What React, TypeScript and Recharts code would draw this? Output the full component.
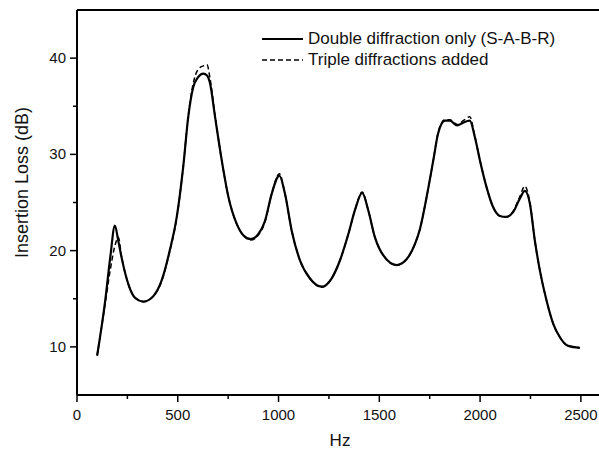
// App.tsx
import { LineChart, Line, XAxis, YAxis, ReferenceLine, Legend } from 'recharts';

const freqs = [
  100, 140, 165, 188, 205, 221, 255, 288, 330, 380, 420, 460, 495, 527, 552, 577, 600, 627, 645, 660,
  685, 718, 751, 792, 825, 862, 899, 933, 966, 1004, 1032, 1065, 1106, 1156, 1214, 1263, 1305, 1346,
  1379, 1415, 1445, 1478, 1520, 1586, 1635, 1677, 1701, 1735, 1768, 1792, 1826, 1850, 1887, 1916, 1949,
  1974, 1999, 2032, 2065, 2098, 2128, 2164, 2197, 2222, 2247, 2272, 2297, 2330, 2363, 2396, 2437, 2495
];

const doubleOnly = [
  9.1, 14.8, 19.3, 22.6, 21.0, 19.3, 16.5, 15.1, 14.7, 15.3, 16.9, 20.0, 23.5, 28.7, 33.9, 37.0, 38.0, 38.4, 38.2, 37.4,
  33.9, 29.4, 25.6, 22.8, 21.6, 21.2, 21.7, 23.1, 25.9, 27.8, 25.9, 22.1, 19.0, 17.1, 16.25, 17.1, 19.0, 21.7,
  24.2, 26.0, 24.2, 21.4, 19.5, 18.5, 19.1, 20.7, 22.2, 25.6, 29.4, 32.2, 33.5, 33.5, 33.0, 33.3, 33.5,
  31.8, 29.4, 26.6, 24.5, 23.6, 23.5, 24.0, 25.4, 26.2, 24.9, 21.0, 17.9, 14.8, 12.4, 11.0, 10.1, 9.9
];

const tripleAdded = [
  9.1, 14.5, 18.0, 20.5, 21.4, 19.4, 16.5, 15.1, 14.7, 15.3, 16.8, 19.9, 23.4, 28.7, 34.0, 37.4, 38.8, 39.2, 39.3, 37.9,
  34.0, 29.4, 25.6, 22.8, 21.6, 21.1, 21.6, 23.0, 25.9, 28.0, 25.9, 22.1, 19.0, 17.1, 16.2, 17.1, 19.0, 21.7,
  24.2, 26.1, 24.2, 21.4, 19.5, 18.5, 19.1, 20.7, 22.2, 25.6, 29.4, 32.3, 33.6, 33.6, 33.1, 33.5, 33.9,
  31.9, 29.4, 26.6, 24.5, 23.6, 23.5, 24.1, 25.6, 26.7, 25.0, 21.0, 17.9, 14.8, 12.4, 11.0, 10.1, 9.9
];

const xTicks = [0, 250, 500, 750, 1000, 1250, 1500, 1750, 2000, 2250, 2500];
const yTicks = [5, 10, 15, 20, 25, 30, 35, 40];

const seriesNames = ['Double diffraction only (S-A-B-R)', 'Triple diffractions added'];

const data = freqs.map((f, i) => ({ hz: f, dbl: doubleOnly[i], tri: tripleAdded[i] }));

const FONT = '"Liberation Sans", Arial, sans-serif';

const AXIS_X = 77;
const AXIS_Y = 395;

const YTick = (props: any) => {
  const { y, payload } = props;
  const v = payload.value;
  if (v === 5) return null;
  const major = v % 10 === 0;
  return (
    <g>
      <line x1={AXIS_X - (major ? 7 : 4)} x2={AXIS_X} y1={y} y2={y} stroke="#000" strokeWidth={1.5} />
      {major && (
        <text x={AXIS_X - 11} y={y} dy={5} textAnchor="end" fontSize={15} fontFamily={FONT} fill="#111">
          {v}
        </text>
      )}
    </g>
  );
};

const XTick = (props: any) => {
  const { x, payload } = props;
  const v = payload.value;
  const major = v % 500 === 0;
  return (
    <g>
      <line x1={x} x2={x} y1={AXIS_Y} y2={AXIS_Y + (major ? 7 : 4)} stroke="#000" strokeWidth={1.5} />
      {major && (
        <text x={x} y={AXIS_Y + 25} textAnchor="middle" fontSize={15} fontFamily={FONT} fill="#111">
          {v}
        </text>
      )}
    </g>
  );
};

const LegendBox = () => (
  <div style={{ fontFamily: FONT, fontSize: 17, color: '#111', lineHeight: '20.5px' }}>
    {seriesNames.map((name, i) => (
      <div key={name} style={{ display: 'flex', alignItems: 'center' }}>
        <svg width={44} height={20.5}>
          <line
            x1={0}
            x2={41}
            y1={10}
            y2={10}
            stroke="#000"
            strokeWidth={i === 0 ? 2.2 : 1.5}
            strokeDasharray={i === 0 ? undefined : '5 3'}
          />
        </svg>
        <span style={{ marginLeft: 2 }}>{name}</span>
      </div>
    ))}
  </div>
);

export default function App() {
  return (
    <div style={{ position: 'absolute', left: 0, top: 0, width: 599, height: 450, background: '#fff' }}>
      <LineChart width={599} height={450} data={data} margin={{ top: 10, right: 0, bottom: 0, left: 0 }}>
        <XAxis
          type="number"
          dataKey="hz"
          domain={[0, 2590]}
          ticks={xTicks}
          tick={<XTick />}
          tickLine={false}
          axisLine={{ stroke: '#000', strokeWidth: 2 }}
          height={55}
          interval={0}
          label={{ value: 'Hz', position: 'insideBottom', offset: 4, dx: 2, fontSize: 17, fontFamily: FONT, fill: '#111' }}
        />
        <YAxis
          type="number"
          domain={[5, 45]}
          ticks={yTicks}
          tick={<YTick />}
          tickLine={false}
          axisLine={{ stroke: '#000', strokeWidth: 2 }}
          width={77}
          interval={0}
          label={{
            value: 'Insertion Loss (dB)',
            angle: -90,
            position: 'insideLeft',
            offset: 22,
            dy: -20,
            fontSize: 18,
            fontFamily: FONT,
            fill: '#111',
            style: { textAnchor: 'middle' }
          }}
        />
        <ReferenceLine y={45} stroke="#000" strokeWidth={2} />
        <Legend
          content={<LegendBox />}
          layout="horizontal"
          verticalAlign="middle"
          align="center"
          wrapperStyle={{ position: 'absolute', left: 262, top: 29, width: 330 }}
        />
        <Line
          type="monotone"
          dataKey="tri"
          name={seriesNames[1]}
          stroke="#000"
          strokeWidth={1.5}
          strokeDasharray="5 3"
          dot={false}
          isAnimationActive={false}
        />
        <Line
          type="monotone"
          dataKey="dbl"
          name={seriesNames[0]}
          stroke="#000"
          strokeWidth={2.2}
          dot={false}
          isAnimationActive={false}
        />
      </LineChart>
    </div>
  );
}
